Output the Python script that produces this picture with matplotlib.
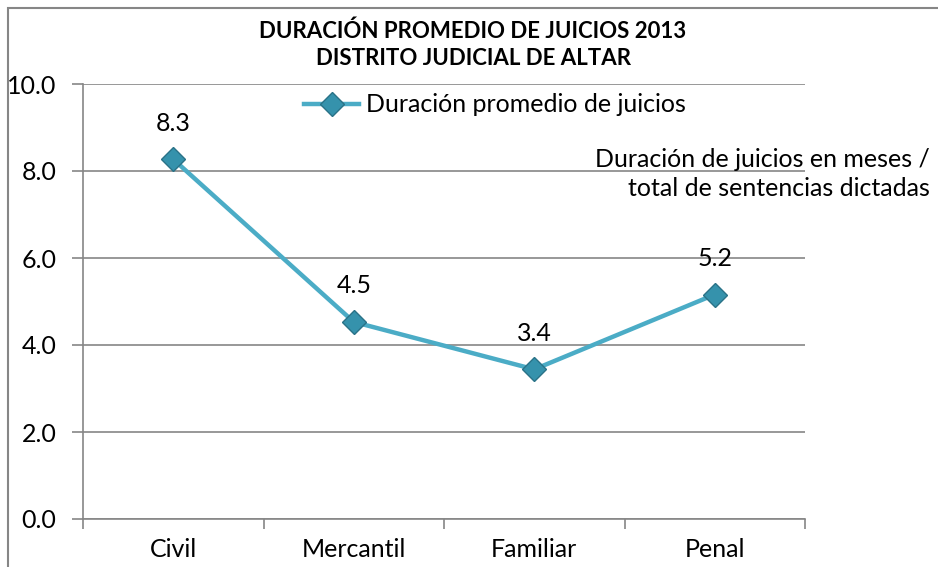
import matplotlib.pyplot as plt
from matplotlib.patches import Rectangle

categorias = ["Civil", "Mercantil", "Familiar", "Penal"]
duracion = [8.27, 4.53, 3.44, 5.16]
etiquetas = ["8.3", "4.5", "3.4", "5.2"]
titulo = "DURACIÓN PROMEDIO DE JUICIOS 2013\nDISTRITO JUDICIAL DE ALTAR"
serie = "Duración promedio de juicios"
nota = "Duración de juicios en meses /\ntotal de sentencias dictadas"

plt.rcParams['font.family'] = ['Lato', 'DejaVu Sans']
gris = "#868686"
azul = "#4bacc6"
fs = 18

fig = plt.figure(figsize=(9.38, 5.67), dpi=100)
ax = fig.add_axes([83 / 938, 48 / 567, 722 / 938, 435 / 567])

# marco exterior del grafico
fig.patches.append(Rectangle((8 / 938, -0.05), 1.1, 1.05 - 8 / 567,
                             transform=fig.transFigure, fill=False,
                             edgecolor=gris, linewidth=1.5))

x = list(range(len(categorias)))
ax.plot(x, duracion, color=azul, linewidth=3.2, marker="D", markersize=12,
        markerfacecolor="#3592ac", markeredgecolor="#2a7287",
        markeredgewidth=1, label=serie, zorder=3)

for xi, yi, lab in zip(x, duracion, etiquetas):
    ax.annotate(lab, (xi, yi), xytext=(0, 26), textcoords="offset points",
                ha="center", va="center", fontsize=fs)

ax.set_xlim(-0.5, len(categorias) - 0.5)
ax.set_ylim(0, 10)
ax.set_yticks([0, 2, 4, 6, 8, 10])
ax.set_yticklabels([f"{v:.1f}" for v in [0, 2, 4, 6, 8, 10]])
ax.set_xticks(x)
ax.set_xticklabels(categorias)
ax.set_xticks([i - 0.5 for i in range(len(categorias) + 1)], minor=True)
ax.tick_params(axis="x", which="major", length=0, pad=14, labelsize=fs)
ax.tick_params(axis="x", which="minor", length=7, color=gris, width=1.2)
ax.tick_params(axis="y", length=8, color=gris, width=1.2, pad=11, labelsize=fs)

ax.grid(axis="y", color=gris, linewidth=1.2)
ax.set_axisbelow(True)
for s in ["top", "right"]:
    ax.spines[s].set_visible(False)
for s in ["left", "bottom"]:
    ax.spines[s].set_color(gris)
    ax.spines[s].set_linewidth(1.2)

fig.text(473 / 938, 1 - 45 / 567, titulo, ha="center", va="center",
         fontsize=16, fontweight="bold", linespacing=1.36)

ax.legend(loc="center", bbox_to_anchor=(495 / 938, 1 - 105 / 567),
          bbox_transform=fig.transFigure, frameon=False, fontsize=fs,
          handlelength=2.2, handletextpad=0.28)

fig.text(930 / 938, 1 - 174 / 567, nota, ha="right", va="center",
         fontsize=fs, linespacing=1.28)

fig.savefig("out.png", dpi=100)
